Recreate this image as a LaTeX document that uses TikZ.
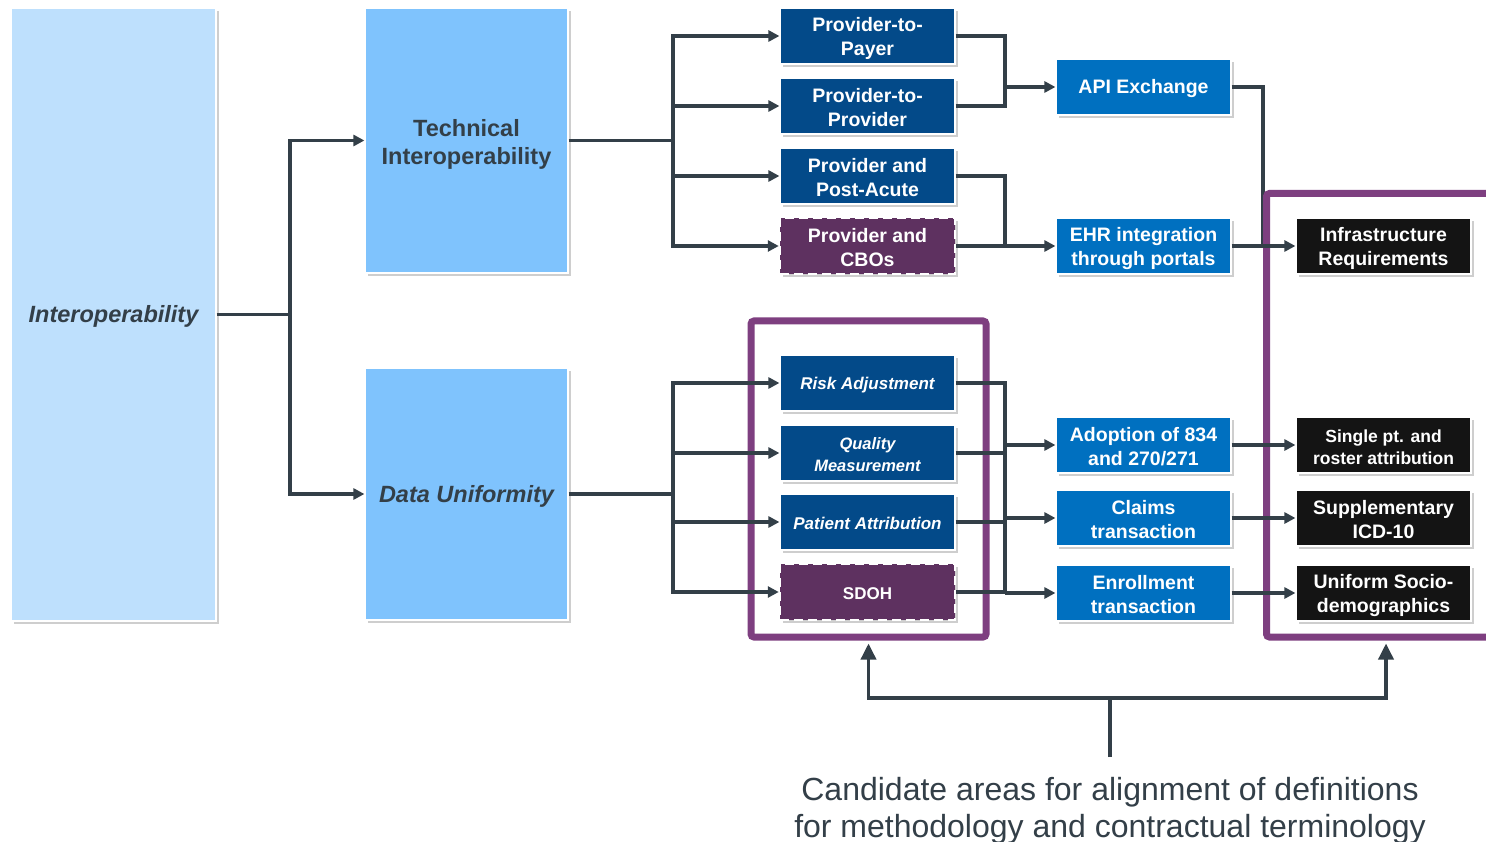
\documentclass[tikz,border=0pt]{standalone}
\usepackage{fontspec}
\setmainfont{Liberation Sans}
\usetikzlibrary{arrows.meta,shadows}
\definecolor{ink}{HTML}{333F48}
\definecolor{lightb}{HTML}{BEE0FD}
\definecolor{midb}{HTML}{7FC3FD}
\definecolor{darkb}{HTML}{034A89}
\definecolor{brightb}{HTML}{0070C0}
\definecolor{plum}{HTML}{5E3160}
\definecolor{framec}{HTML}{7E3F80}
\definecolor{blk}{HTML}{141414}
\newcommand\tgap[1][0.93em]{\rule{0pt}{#1}}
\tikzset{
  box/.style={rectangle, inner sep=0pt, align=center, draw=white, line width=1.2pt,
    drop shadow={shadow xshift=3pt, shadow yshift=-3pt, opacity=0.35, fill=black!55}},
  bigbox/.style={box, fill=lightb, text=ink, minimum width=205pt, minimum height=613pt,
    font=\fontsize{23.5}{28}\selectfont\bfseries},
  midbox/.style={box, fill=midb, text=ink, minimum width=203pt,
    font=\fontsize{23.5}{28}\selectfont\bfseries},
  lvbox/.style={box, fill=darkb, text=white, minimum width=175pt, minimum height=56pt,
    font=\fontsize{19.5}{24}\selectfont\bfseries},
  lvsmall/.style={lvbox, font=\fontsize{17}{22}\selectfont\bfseries\itshape},
  dashbox/.style={lvbox, fill=plum, draw=white, line width=2.5pt, dash pattern=on 9pt off 5pt},
  bluebox/.style={lvbox, fill=brightb},
  blackbox/.style={lvbox, fill=blk},
  framebox/.style={rectangle, draw=framec, line width=7pt, rounded corners=3pt, inner sep=0pt},
  ln/.style={draw=ink, line width=3.5pt},
  arr/.style={ln, -{Triangle[length=11pt,width=11pt]}},
  bigarr/.style={ln, -{Triangle[length=16pt,width=15pt]}, shorten >=3pt}
}
\begin{document}
\begin{tikzpicture}[x=1pt,y=-1pt]
\clip (0,0) rectangle (1486,842);
\fill[white] (0,0) rectangle (1486,842);

% level 1 and 2
\node[bigbox] (interop) at (113.5,314.5) {\tgap\itshape Interoperability};
\node[midbox, minimum height=265pt] (tech) at (466.5,140.5) {\tgap[1.05em]Technical\\Interoperability};
\node[midbox, minimum height=252pt] (du) at (466.5,494) {\tgap\itshape Data Uniformity};

% level 3 top
\node[lvbox] (pp)  at (867.5,36)  {\tgap Provider-to-\\Payer};
\node[lvbox] (ppr) at (867.5,106) {\tgap Provider-to-\\Provider};
\node[lvbox] (ppa) at (867.5,176) {\tgap Provider and\\Post-Acute};
\node[dashbox] (pcb) at (867.5,246) {\tgap Provider and\\CBOs};

% level 3 bottom
\node[lvsmall] (ra) at (867.5,383) {\tgap Risk Adjustment};
\node[lvsmall, font=\fontsize{16.5}{22}\selectfont\bfseries\itshape] (qm) at (867.5,453) {\tgap Quality\\Measurement};
\node[lvsmall] (pa) at (867.5,522) {\tgap Patient Attribution};
\node[dashbox, font=\fontsize{17}{22}\selectfont\bfseries] (sd) at (867.5,592) {\tgap SDOH};

% level 4
\node[bluebox] (api) at (1143.5,87)  {\tgap API Exchange};
\node[bluebox] (ehr) at (1143.5,246) {\tgap EHR integration\\through portals};
\node[bluebox] (ad)  at (1143.5,445) {\tgap Adoption of 834\\and 270/271};
\node[bluebox] (cl)  at (1143.5,518) {\tgap Claims\\transaction};
\node[bluebox] (en)  at (1143.5,593) {\tgap Enrollment\\transaction};

% level 5
\node[blackbox] (infra) at (1383.5,246) {\tgap Infrastructure\\Requirements};
\node[blackbox, font=\fontsize{17.5}{22}\selectfont\bfseries] (sp) at (1383.5,445) {\tgap Single pt. and\\roster attribution};
\node[blackbox] (icd) at (1383.5,518) {\tgap Supplementary\\ICD-10};
\node[blackbox] (us)  at (1383.5,593) {\tgap Uniform Socio-\\demographics};

% API connector (under the frame)
\coordinate (ij) at (1263,246);
\draw[ln] (api.east) -| (ij);

% frames
\node[framebox, minimum width=235pt, minimum height=316pt] (fl) at (868.5,479) {};
\node[framebox, minimum width=239pt, minimum height=443.5pt] (fr) at (1386,415.25) {};

% connectors level 1 -> 2
\coordinate (j0) at (290,314.5);
\draw[ln] (interop.east) -- (j0);
\draw[arr] (j0) |- (tech.west);
\draw[arr] (j0) |- (du.west);

% level 2 -> 3
\coordinate (tj) at (673,140.5);
\draw[ln] (tech.east) -- (tj);
\foreach \n in {pp,ppr,ppa,pcb} \draw[arr] (tj) |- (\n.west);
\coordinate (dj) at (673,494);
\draw[ln] (du.east) -- (dj);
\foreach \n in {ra,qm,pa,sd} \draw[arr] (dj) |- (\n.west);

% level 3 -> 4 (top)
\coordinate (aj) at (1005,87);
\draw[ln] (pp.east) -| (aj);
\draw[ln] (ppr.east) -| (aj);
\draw[arr] (aj) -- (api.west);
\coordinate (ej) at (1005,246);
\draw[ln] (ppa.east) -| (ej);
\draw[arr] (pcb.east) -- (ehr.west);

% level 3 -> 4 (bottom)
\coordinate (v0) at (1005,593);
\foreach \n in {ra,qm,pa,sd} \draw[ln] (\n.east) -| (v0);
\coordinate (v1) at (1005,445);
\coordinate (v2) at (1005,518);
\draw[arr] (v1) -- (ad.west);
\draw[arr] (v2) -- (cl.west);
\draw[arr] (v0) -- (en.west);

% level 4 -> 5
\draw[arr] (ehr.east) -- (infra.west);
\draw[arr] (ad.east) -- (sp.west);
\draw[arr] (cl.east) -- (icd.west);
\draw[arr] (en.east) -- (us.west);

% candidate text and arrows
\node[inner sep=0pt, anchor=north, align=center, text=ink,
      font=\fontsize{32}{37}\selectfont] (cand) at (1110,777)
  {Candidate areas for alignment of definitions\\for methodology and contractual terminology};
\coordinate (hub) at (1110,698);
\draw[ln, shorten <=20pt] (cand.north) -- (hub);
\draw[bigarr] (hub) -| (fl.south);
\draw[bigarr] (hub) -| (fr.south);
\end{tikzpicture}
\end{document}
